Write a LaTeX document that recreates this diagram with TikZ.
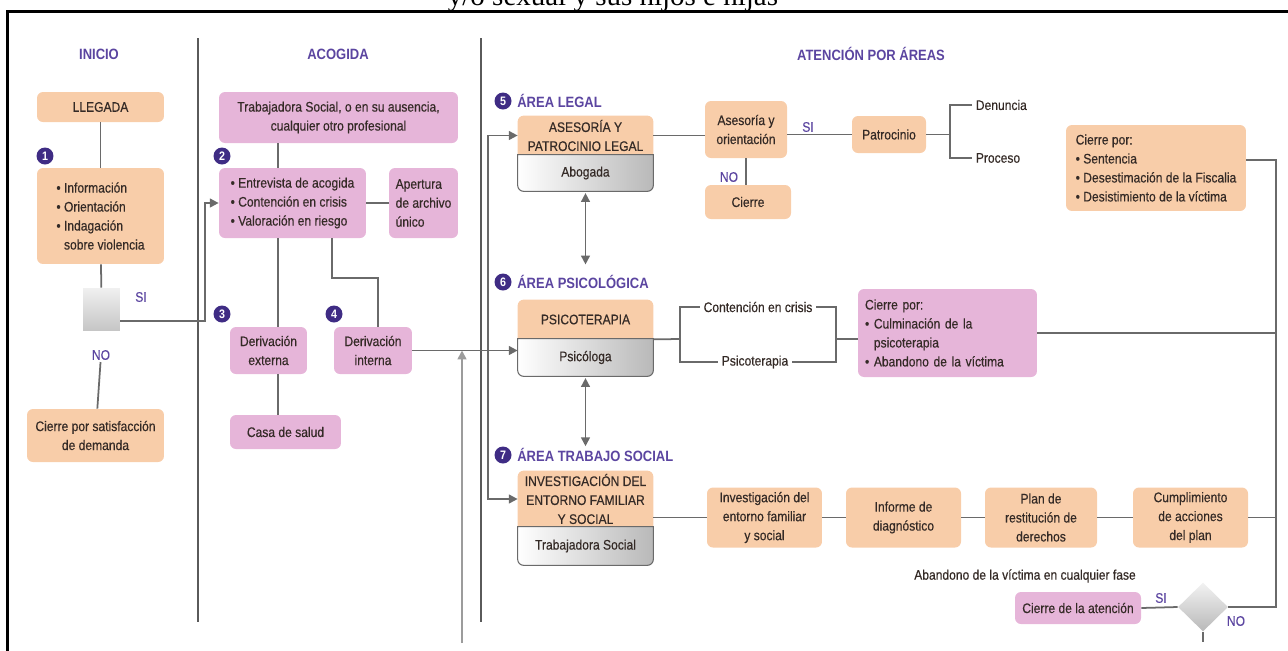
\documentclass[tikz,border=0pt]{standalone}
\usepackage{fontspec}
\setmainfont{Liberation Sans}[FakeStretch=0.87, UprightFeatures={FakeBold=0.4}]
\newfontfamily\titlefont{Liberation Serif}
\definecolor{cOrange}{HTML}{F8CDA9}
\definecolor{cPink}{HTML}{E6B5D9}
\definecolor{cPurple}{HTML}{5B45A0}
\definecolor{cIndigo}{HTML}{3F2C84}
\definecolor{cText}{HTML}{342A26}
\definecolor{cLine}{HTML}{6A6A6A}
\definecolor{cLight}{HTML}{9C9C9C}
\usetikzlibrary{arrows.meta, positioning, backgrounds, shapes.geometric}
\newcommand{\boxfont}{\fontsize{7.9pt}{10.8pt}\selectfont}
\newcommand{\headfont}{\fontsize{8.5pt}{10pt}\selectfont\bfseries}
\tikzset{
  box/.style={rectangle, rounded corners=3.4pt, inner sep=0pt, font=\boxfont, text=cText, align=center},
  obox/.style={box, fill=cOrange},
  pbox/.style={box, fill=cPink},
  areatxt/.style={box, rounded corners=0pt},
  num/.style={circle, fill=cIndigo, text=white, font=\fontsize{7pt}{7pt}\selectfont\bfseries, minimum size=0.34cm, inner sep=0pt},
  head/.style={font=\headfont, text=cPurple, inner sep=0pt},
  arealabel/.style={head, anchor=west},
  yesno/.style={font=\boxfont, text=cPurple, inner sep=1pt},
  plain/.style={font=\boxfont, text=cText, inner sep=2pt},
  conn/.style={draw=cLine, line width=1pt},
  arr/.style={conn, -{Triangle[length=5pt, width=5pt]}},
  dbl/.style={conn, {Triangle[length=5pt, width=5pt]}-{Triangle[length=5pt, width=5pt]}},
  divider/.style={draw=cLine!85!black, line width=1.1pt}
}
\begin{document}
\begin{tikzpicture}[x=0.02cm, y=-0.02cm]
  \useasboundingbox (0,0) rectangle (1288,650);
  % page frame and cut caption
  \node[font=\titlefont\fontsize{16.5pt}{18pt}\selectfont, anchor=base, inner sep=0pt] (caption) at (613,5) {y/o sexual y sus hijos e hijas};
  \draw[line width=1.7pt] (7.5,680) -- (7.5,11.5) -- (1300,11.5);
  % columns
  \draw[divider] (198,38) -- (198,622);
  \draw[divider] (481,38) -- (481,622);
  \node[head] (hInicio) at (99,54) {INICIO};
  \node[head] (hAcogida) at (338,54) {ACOGIDA};
  \node[head] (hAtencion) at (871,54) {ATENCIÓN POR ÁREAS};

  % inicio
  \node[obox, minimum width=2.54cm, minimum height=0.6cm] (llegada) at (100.5,107) {LLEGADA};
  \node[num] (n1) at (45,156) {1};
  \node[obox, minimum width=2.54cm, minimum height=1.92cm, align=left] (info) at (100.5,216)
       {\textbullet\ Información\\\textbullet\ Orientación\\\textbullet\ Indagación\\\phantom{\textbullet\ }sobre violencia};
  \node[rectangle, minimum width=0.74cm, minimum height=0.84cm, inner sep=0pt, top color=gray!12, bottom color=gray!45] (decide) at (101.5,309) {};
  \node[yesno] (si1) at (141,297) {SI};
  \node[yesno] (no1) at (101,355) {NO};
  \node[obox, minimum width=2.74cm, minimum height=1.06cm] (cierreSat) at (95.5,435.5) {Cierre por satisfacción\\de demanda};

  % acogida
  \node[pbox, minimum width=4.78cm, minimum height=1.02cm] (trabajadora) at (338.5,117.5) {Trabajadora Social, o en su ausencia,\\cualquier otro profesional};
  \node[num] (n2) at (222,156) {2};
  \node[pbox, minimum width=2.94cm, minimum height=1.4cm, align=left] (entrevista) at (292.5,203)
       {\textbullet\ Entrevista de acogida\\\textbullet\ Contención en crisis\\\textbullet\ Valoración en riesgo};
  \node[pbox, minimum width=1.38cm, minimum height=1.4cm, align=left] (apertura) at (423.5,203) {Apertura\\de archivo\\único};
  \node[num] (n3) at (222,314) {3};
  \node[num] (n4) at (334,314) {4};
  \node[pbox, minimum width=1.54cm, minimum height=0.94cm] (derExt) at (268.5,350.5) {Derivación\\externa};
  \node[pbox, minimum width=1.56cm, minimum height=0.94cm] (derInt) at (373,350.5) {Derivación\\interna};
  \node[pbox, minimum width=2.22cm, minimum height=0.68cm] (casa) at (285.5,432) {Casa de salud};

  % area legal
  \node[num] (n5) at (503,101) {5};
  \node[arealabel] (lab5) at (517,101) {ÁREA LEGAL};
  \node[areatxt, minimum width=2.7cm, minimum height=0.78cm] (legal) at (585.5,135.5) {ASESORÍA Y\\PATROCINIO LEGAL};
  \node[areatxt, minimum width=2.7cm, minimum height=0.72cm] (abogada) at (585.5,173) {Abogada};
  \node[obox, minimum width=1.64cm, minimum height=1.14cm] (orient) at (746,129.5) {Asesoría y\\orientación};
  \node[yesno] (si2) at (808,127) {SI};
  \node[obox, minimum width=1.48cm, minimum height=0.74cm] (patro) at (889,134.5) {Patrocinio};
  \node[plain, anchor=west] (denuncia) at (972,105) {Denuncia};
  \node[plain, anchor=west] (proceso) at (972,158) {Proceso};
  \node[yesno] (no2) at (729,177) {NO};
  \node[obox, minimum width=1.72cm, minimum height=0.68cm] (cierre) at (748,202) {Cierre};
  \node[obox, minimum width=3.6cm, minimum height=1.72cm, align=left] (cierreLegal) at (1156,168)
       {Cierre por:\\\textbullet\ Sentencia\\\textbullet\ Desestimación de la Fiscalia\\\textbullet\ Desistimiento de la víctima};

  % area psicologica
  \node[num] (n6) at (503,282) {6};
  \node[arealabel] (lab6) at (517,282) {ÁREA PSICOLÓGICA};
  \node[areatxt, minimum width=2.7cm, minimum height=0.78cm] (psicoter) at (585.5,319.5) {PSICOTERAPIA};
  \node[areatxt, minimum width=2.7cm, minimum height=0.74cm] (psicologa) at (585.5,357.5) {Psicóloga};
  \node[plain] (contencion) at (758,307) {Contención en crisis};
  \node[plain] (psicoterapia) at (755,362) {Psicoterapia};
  \node[pbox, minimum width=3.58cm, minimum height=1.76cm, text width=3.3cm, align=left] (cierrePsi) at (947.5,333)
       {Cierre por:\\\textbullet\ Culminación de la\\\phantom{\textbullet\ }psicoterapia\\\textbullet\ Abandono de la víctima};

  % area trabajo social
  \node[num] (n7) at (503,455) {7};
  \node[arealabel] (lab7) at (517,455) {ÁREA TRABAJO SOCIAL};
  \node[areatxt, minimum width=2.7cm, minimum height=1.12cm] (social) at (585.5,499) {INVESTIGACIÓN DEL\\ENTORNO FAMILIAR\\Y SOCIAL};
  \node[areatxt, minimum width=2.7cm, minimum height=0.76cm] (tsocial) at (585.5,546) {Trabajadora Social};
  \node[obox, minimum width=2.3cm, minimum height=1.2cm] (paso1) at (764.5,517.5) {Investigación del\\entorno familiar\\y social};
  \node[obox, minimum width=2.3cm, minimum height=1.2cm] (paso2) at (903.5,517.5) {Informe de\\diagnóstico};
  \node[obox, minimum width=2.24cm, minimum height=1.2cm] (paso3) at (1041,517.5) {Plan de\\restitución de\\derechos};
  \node[obox, minimum width=2.3cm, minimum height=1.2cm] (paso4) at (1190.5,517.5) {Cumplimiento\\de acciones\\del plan};
  \node[plain] (abandono) at (1025,576) {Abandono de la víctima en cualquier fase};
  \node[pbox, minimum width=2.52cm, minimum height=0.64cm] (cierreAt) at (1078,608) {Cierre de la atención};
  \node[diamond, minimum width=1cm, minimum height=0.98cm, inner sep=0pt, top color=gray!10, bottom color=gray!55] (finDecide) at (1203,607) {};
  \node[yesno] (si3) at (1161,598) {SI};
  \node[yesno] (no3) at (1236,621) {NO};

  % two-tone area boxes
  \begin{scope}[on background layer]
    \foreach \partA/\partB in {legal/abogada, psicoter/psicologa, social/tsocial}{
      \fill[cOrange] (\partA.south west) -- ([yshift=-3.4pt]\partA.north west) arc[start angle=180, end angle=90, radius=3.4pt]
        -- ([xshift=-3.4pt]\partA.north east) arc[start angle=90, end angle=0, radius=3.4pt] -- (\partA.south east) -- cycle;
      \shadedraw[left color=white, right color=gray!55, draw=cLine, line width=0.6pt] (\partB.north west)
        -- ([yshift=3.4pt]\partB.south west) arc[start angle=180, end angle=270, radius=3.4pt]
        -- ([xshift=-3.4pt]\partB.south east) arc[start angle=270, end angle=360, radius=3.4pt] -- (\partB.north east) -- cycle;
    }
  \end{scope}

  % inicio connectors
  \draw[conn] (llegada) -- (info);
  \draw[conn] (info) -- (decide);
  \draw[conn] (no1) -- (cierreSat);
  \coordinate (bend1) at (205,321);
  \draw[arr] (decide.east |- bend1) -- (bend1) |- (entrevista.west);

  % acogida connectors
  \coordinate (extLine) at (278,0);
  \coordinate (intLine) at (332,278);
  \coordinate (intDrop) at (378,0);
  \draw[conn] (trabajadora.south -| extLine) -- (entrevista.north -| extLine);
  \draw[conn] (entrevista) -- (apertura);
  \draw[conn] (entrevista.south -| extLine) -- (derExt.north -| extLine);
  \draw[conn] (derExt.south -| extLine) -- (casa.north -| extLine);
  \draw[conn] (entrevista.south -| intLine) -- (intLine) -| (derInt.north -| intDrop);

  % entries into the areas
  \coordinate (entry) at (462,643);
  \draw[arr, draw=cLight] (entry) -- (entry |- derInt.east);
  \draw[arr] (derInt.east) -- (derInt.east -| psicologa.west);
  \coordinate (rail) at (488,0);
  \draw[dbl] (legal.west) -- (legal.west -| rail) -- (social.west -| rail) -- (social.west);
  \draw[dbl, shorten <=1pt, shorten >=6pt] (abogada.south) -- (abogada.south |- lab6.north);
  \draw[dbl, shorten <=1pt, shorten >=1pt] (psicologa.south) -- (psicologa.south |- lab7.north);

  % legal connectors
  \draw[conn] (legal.east) -- (legal.east -| orient.west);
  \draw[conn] (orient.east |- patro.west) -- (patro.west);
  \coordinate (forkLegal) at (950,134.5);
  \draw[conn] (patro.east) -- (forkLegal);
  \draw[conn] (denuncia.west) -| (forkLegal) |- (proceso.west);
  \draw[conn] (orient.south) -- (orient.south |- cierre.north);

  % psicologica connectors
  \coordinate (forkIn) at (680,339);
  \coordinate (forkOut) at (836,339);
  \draw[conn] (psicoter.south east) -- (forkIn);
  \draw[conn] (contencion.west) -| (forkIn) |- (psicoterapia.west);
  \draw[conn] (contencion.east) -| (forkOut) |- (psicoterapia.east);
  \draw[conn] (forkOut) -- (forkOut -| cierrePsi.west);

  % trabajo social connectors
  \draw[conn] (paso1.west -| social.east) -- (paso1.west);
  \foreach \a/\b in {paso1/paso2, paso2/paso3, paso3/paso4}
    \draw[conn] (\a) -- (\b);

  % closing rail
  \coordinate (rrail) at (1276,160);
  \draw[conn] (cierreLegal.east |- rrail) -- (rrail) -- (rrail |- finDecide.east) -- (finDecide.east);
  \draw[conn] (cierrePsi.east) -- (cierrePsi.east -| rrail);
  \draw[conn] (paso4.east) -- (paso4.east -| rrail);
  \draw[conn] (finDecide.west) -- (cierreAt.east);
  \coordinate (stub) at (1203,642);
  \draw[conn] (finDecide.south) -- (stub);
\end{tikzpicture}
\end{document}
